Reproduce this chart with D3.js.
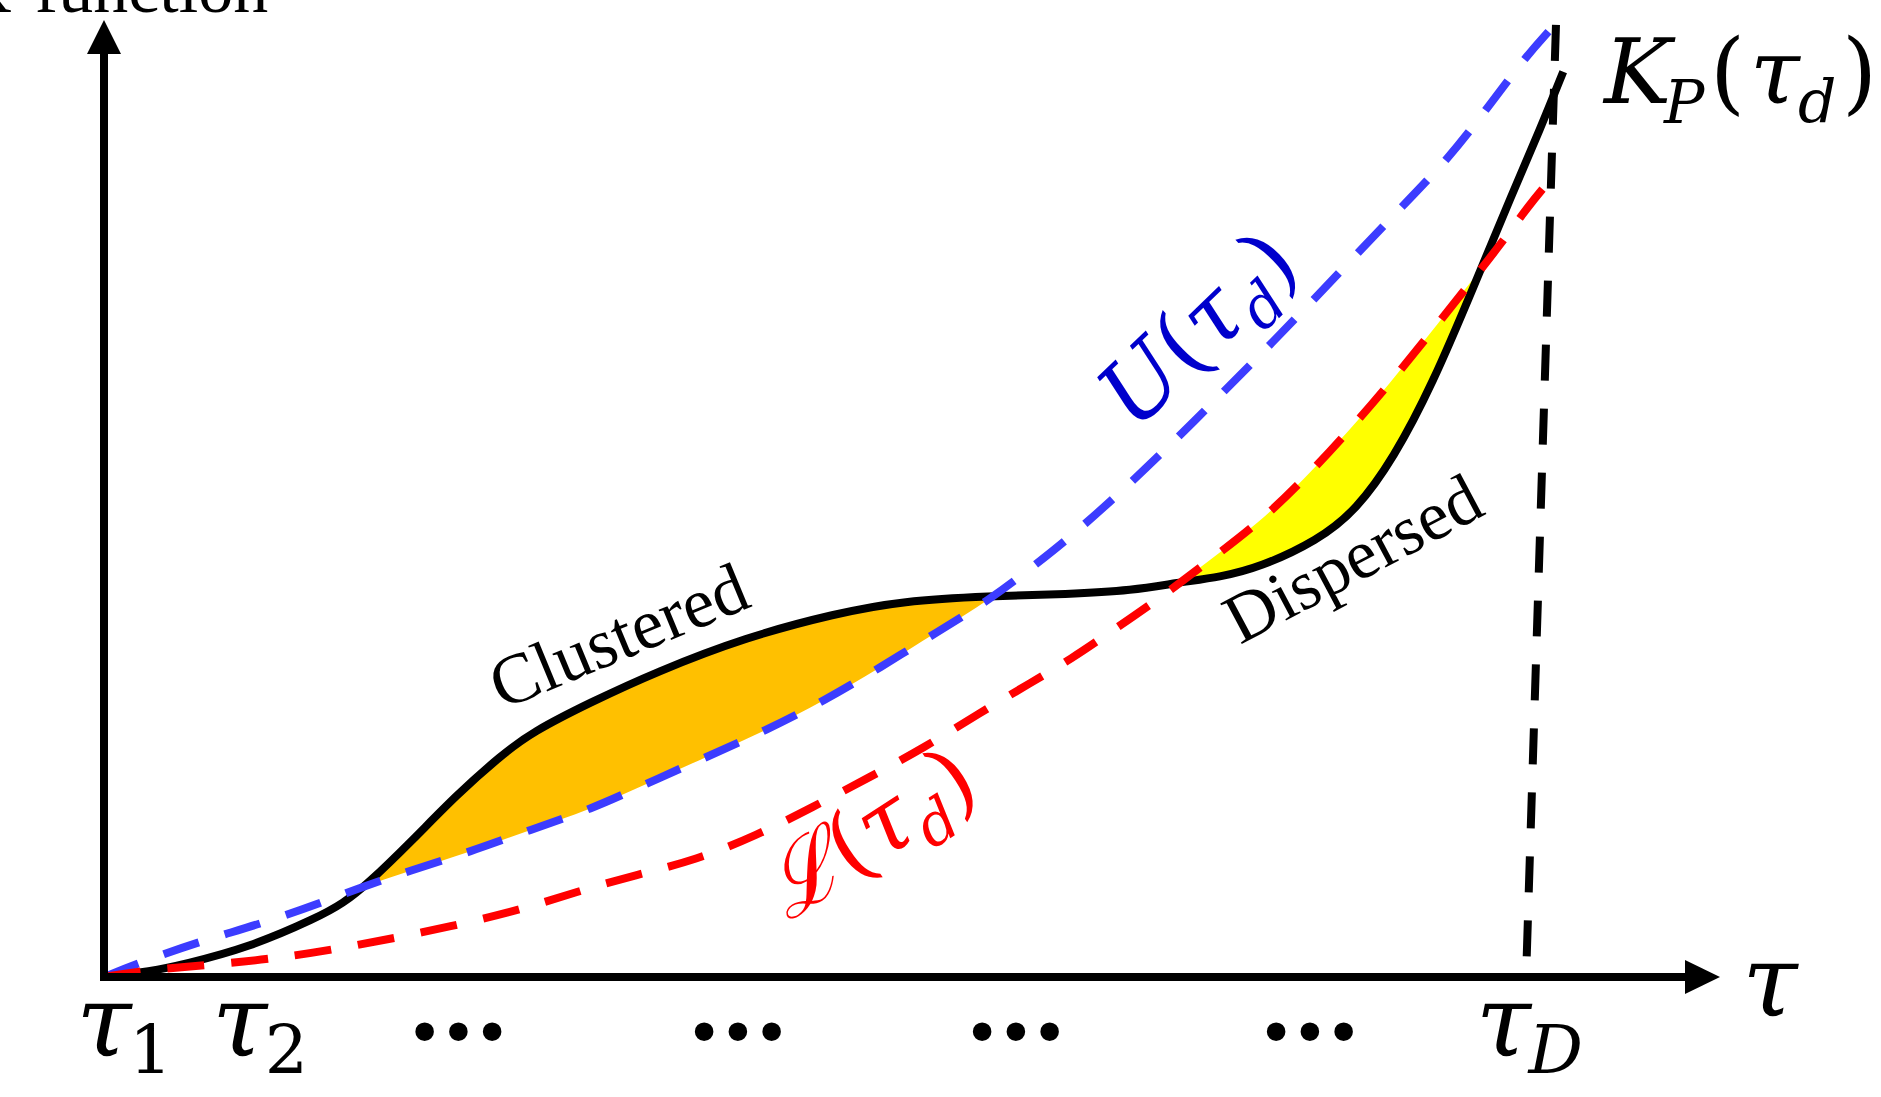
<!DOCTYPE html>
<html><head><meta charset="utf-8">
<script src="https://cdn.jsdelivr.net/npm/d3@7"></script>
<style>html,body{margin:0;padding:0;background:#fff;overflow:hidden}</style>
</head><body>
<svg id="chart" width="1881" height="1097"></svg>
<script>
// ---- data (abstract units: tau 0..100, K 0..100) ----
const upperTau = [0,2.2,5.9,9.8,13.5,15.8,18.9,22.7,26.4,30.1,33.7,37.3,41.0,44.6,48.0,51.6,54.8,57.8,59.6,62.9,66.7,68.3,72.2,76.5,80.2,83.3,85.6,87.9,89.5];
const upperK   = [0,1.5,3.7,5.6,7.8,9.3,11.1,13.1,15.4,17.5,20.3,23.0,25.8,28.9,32.3,36.1,39.4,43.3,45.7,50.6,56.8,59.5,66.1,73.7,80.3,85.7,90.8,96.0,99.0];

const lowerTau = [0,2.9,6.9,10.9,14.7,19.6,25.2,29.2,33.0,36.6,40.4,43.8,47.4,50.8,54.2,57.3,60.0,61.8,65.2,68.3,71.5,74.2,76.9,79.6,82.0,84.2,86.4,88.2,89.5];
const lowerK   = [0,0.8,1.3,2.0,3.0,4.6,6.7,8.9,10.7,12.2,14.8,17.7,20.9,24.0,27.6,30.7,33.4,35.5,39.4,43.4,47.5,51.9,56.8,62.1,67.1,71.8,76.5,80.7,83.3];

const obsTau = [0,2.9,4.9,9.0,13.2,14.8,16.3,19.1,21.8,24.6,26.5,30.1,34.2,39.7,45.3,49.4,54.8,59.6,63.7,66.4,69.1,71.5,75.1,77.5,79.8,82.2,84.8,87.1,88.9,90.3];
const obsK   = [0,0.6,1.3,3.1,6.2,7.7,9.7,14.3,19.0,23.2,25.6,28.7,31.9,35.5,38.0,39.3,39.8,40.0,40.4,41.2,41.8,42.8,45.6,48.8,54.2,61.9,72.3,81.7,88.7,94.6];

const limitTau = [88.0, 89.85];
const limitK   = [0, 99.5];

const tickTau  = [0, 8.4, 21.8, 39.1, 56.3, 74.5, 86.6];
const tickMain = ["τ","τ","•••","•••","•••","•••","τ"];
const tickSub  = ["1","2","","","","","D"];

// ---- scales ----
const x = d3.scaleLinear().domain([0,100]).range([104,1720]);
const y = d3.scaleLinear().domain([0,100]).range([977,20]);

const svg = d3.select("#chart");
const mathFont = "'DejaVu Serif', serif";
const textFont = "'Liberation Serif','Times New Roman',serif";

const pts = (t,k) => t.map((v,i)=>[v,k[i]]);
const upper = pts(upperTau, upperK), lower = pts(lowerTau, lowerK), obs = pts(obsTau, obsK);
const curve = d3.curveBasis;
const line = d3.line().x(d=>x(d[0])).y(d=>y(d[1])).curve(curve);
const below = d3.area().x(d=>x(d[0])).y0(y(-5)).y1(d=>y(d[1])).curve(curve);
const above = d3.area().x(d=>x(d[0])).y0(y(110)).y1(d=>y(d[1])).curve(curve);

const defs = svg.append("defs");
defs.append("clipPath").attr("id","aboveUpper").append("path").attr("d", above(upper));
defs.append("clipPath").attr("id","aboveObs").append("path").attr("d", above(obs));

// clustered region: below observed curve and above upper envelope
svg.append("path").attr("d", below(obs)).attr("fill","#ffc000").attr("clip-path","url(#aboveUpper)");
// dispersed region: below lower envelope and above observed curve
svg.append("path").attr("d", below(lower)).attr("fill","#ffff00").attr("clip-path","url(#aboveObs)");

const SW = 8;
// observed K curve
svg.append("path").attr("d", line(obs)).attr("fill","none").attr("stroke","#000").attr("stroke-width",SW);
// envelopes
svg.append("path").attr("d", line(upper)).attr("fill","none").attr("stroke","#3c3cff").attr("stroke-width",SW).attr("stroke-dasharray","37,27");
svg.append("path").attr("d", line(lower)).attr("fill","none").attr("stroke","#ff0000").attr("stroke-width",SW).attr("stroke-dasharray","37,27");
// tau_D line
svg.append("line").attr("x1",x(limitTau[1])).attr("y1",y(limitK[1])).attr("x2",x(limitTau[0])).attr("y2",y(limitK[0]))
  .attr("stroke","#000").attr("stroke-width",SW).attr("stroke-dasharray","36,28");

// axes
const x0 = x(0), y0 = y(0), xEnd = x(100), yEnd = y(100);
svg.append("line").attr("x1",x0).attr("y1",y0).attr("x2",x0).attr("y2",yEnd+30).attr("stroke","#000").attr("stroke-width",SW);
svg.append("line").attr("x1",x0-4).attr("y1",y0).attr("x2",xEnd-30).attr("y2",y0).attr("stroke","#000").attr("stroke-width",SW);
svg.append("path").attr("d",`M${x0},${yEnd} L${x0-17},${yEnd+34} L${x0+17},${yEnd+34} Z`).attr("fill","#000");
svg.append("path").attr("d",`M${xEnd},${y0} L${xEnd-35},${y0-17} L${xEnd-35},${y0+17} Z`).attr("fill","#000");

// y axis title (cut off at top)
svg.append("text").attr("x",-39).attr("y",12).attr("font-family",textFont).attr("font-size",70).text("K-function");
// x axis title
svg.append("text").attr("x",1770).attr("y",1015).attr("text-anchor","middle").attr("font-family",mathFont)
  .attr("font-style","italic").attr("font-size",100).text("τ");

// tick labels
tickTau.forEach((t,i)=>{
  const cx = x(t);
  if (tickMain[i] === "τ") {
    svg.append("text").attr("x",cx).attr("y",1055).attr("text-anchor","middle").attr("font-family",mathFont)
      .attr("font-style","italic").attr("font-size",100).text(tickMain[i]);
    svg.append("text").attr("x",cx+25).attr("y",1073).attr("font-family",mathFont)
      .attr("font-style", tickSub[i]==="D" ? "italic" : "normal").attr("font-size",68).text(tickSub[i]);
  } else {
    svg.append("text").attr("x",cx).attr("y",1056).attr("text-anchor","middle").attr("font-family","'DejaVu Sans',sans-serif")
      .attr("font-size",64).attr("letter-spacing",-4).text(tickMain[i]);
  }
});

// K_P(tau_d) label
const kp = svg.append("text").attr("font-family",mathFont).attr("font-size",90).attr("y",103);
kp.append("tspan").attr("x",1604).attr("font-style","italic").text("K");
kp.append("tspan").attr("x",1664).attr("y",123).attr("font-style","italic").attr("font-size",60).text("P");
kp.append("tspan").attr("x",1710).attr("y",103).text("(");
kp.append("tspan").attr("x",1750).attr("font-style","italic").text("τ");
kp.append("tspan").attr("x",1798).attr("y",122).attr("font-style","italic").attr("font-size",60).text("d");
kp.append("tspan").attr("x",1842).attr("y",103).text(")");

// rotated labels
function envLabel(sym, tx, ty, ang, color) {
  const g = svg.append("g").attr("transform",`translate(${tx},${ty}) rotate(${ang})`);
  const t = g.append("text").attr("font-family",mathFont).attr("font-size",90).attr("fill",color);
  t.append("tspan").attr("font-style","italic").text(sym);
  t.append("tspan").text("(");
  t.append("tspan").attr("font-style","italic").text("τ");
  t.append("tspan").attr("font-style","italic").attr("font-size",60).attr("dy",18).text("d");
  t.append("tspan").attr("dy",-18).text(")");
}
envLabel("U", 1135, 432, -44, "#0000cc");
envLabel("ℒ", 788, 922, -33, "#ff0000");

svg.append("text").attr("transform","translate(502,710) rotate(-22.5)").attr("font-family",textFont)
  .attr("font-size",71).text("Clustered");
svg.append("text").attr("transform","translate(1240,645) rotate(-28)").attr("font-family",textFont)
  .attr("font-size",70).text("Dispersed");
</script>
</body></html>
